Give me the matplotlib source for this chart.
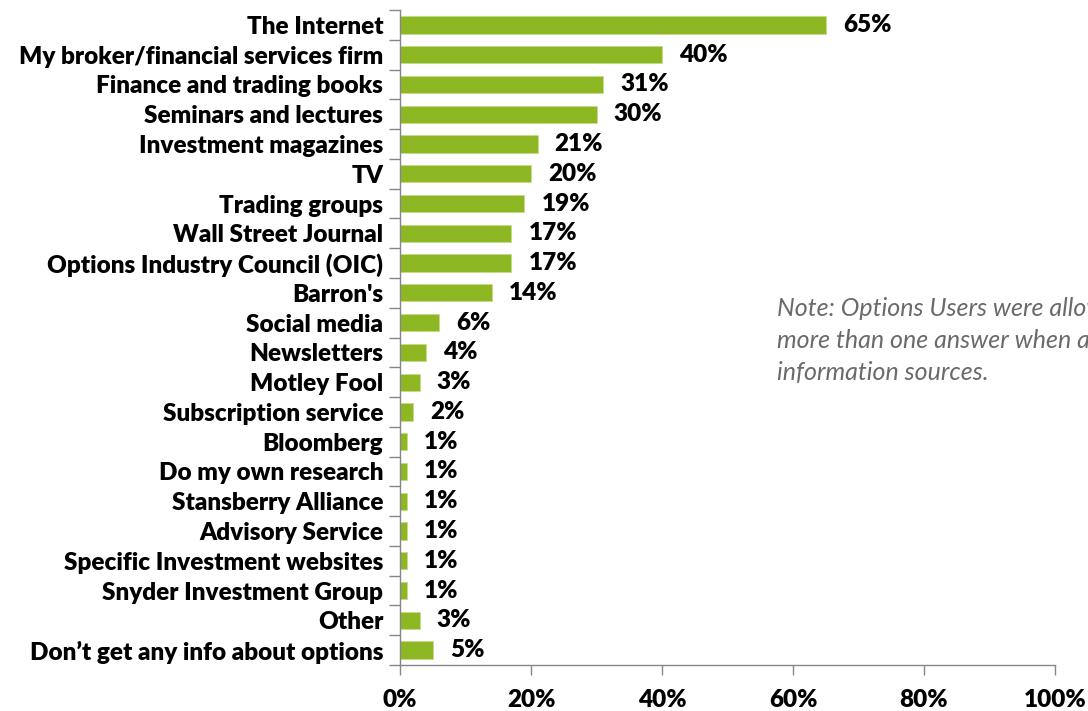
import matplotlib
matplotlib.use("Agg")
import matplotlib.pyplot as plt
from matplotlib.ticker import FixedLocator, PercentFormatter

categories = [
    "The Internet", "My broker/financial services firm", "Finance and trading books",
    "Seminars and lectures", "Investment magazines", "TV", "Trading groups",
    "Wall Street Journal", "Options Industry Council (OIC)", "Barron's", "Social media",
    "Newsletters", "Motley Fool", "Subscription service", "Bloomberg",
    "Do my own research", "Stansberry Alliance", "Advisory Service",
    "Specific Investment websites", "Snyder Investment Group", "Other",
    "Don\u2019t get any info about options",
]
values = [65, 40, 31, 30, 21, 20, 19, 17, 17, 14, 6, 4, 3, 2, 1, 1, 1, 1, 1, 1, 3, 5]
value_labels = ["65%", "40%", "31%", "30%", "21%", "20%", "19%", "17%", "17%", "14%", "6%",
                "4%", "3%", "2%", "1%", "1%", "1%", "1%", "1%", "1%", "3%", "5%"]
xticks = [0, 20, 40, 60, 80, 100]
note_lines = ["Note: Options Users were allowed to give",
              "more than one answer when asked about",
              "information sources."]

FONT = "Lato"
FS = 17.5
WEIGHT = "heavy"
GREEN = "#8DB823"
AXC = "#868686"

fig = plt.figure(figsize=(10.88, 7.11), dpi=100)
W, H = 1088, 711
ax = fig.add_axes([400 / W, 1 - 665 / H, 655 / W, 655 / H])

n = len(categories)
ys = list(range(n))
ax.barh(ys, values, height=0.58, color=GREEN, edgecolor="#C5DC8A", linewidth=0.6)
ax.set_xlim(0, 100)
ax.set_ylim(n - 0.5, -0.5)

for y, v, lab in zip(ys, values, value_labels):
    ax.text(v + 2.6, y, lab, va="center", ha="left", fontsize=FS, fontweight=WEIGHT,
            family=FONT, color="black")

ax.set_yticks(ys)
ax.set_yticklabels(categories, fontsize=FS, fontweight=WEIGHT, family=FONT)
ax.tick_params(axis="y", which="major", length=0, pad=12)
ax.yaxis.set_minor_locator(FixedLocator([i - 0.5 for i in range(n + 1)]))
ax.tick_params(axis="y", which="minor", length=8, color=AXC, width=1)

ax.set_xticks(xticks)
ax.xaxis.set_major_formatter(PercentFormatter(decimals=0))
ax.tick_params(axis="x", length=7, color=AXC, width=1, pad=10)
for t in ax.get_xticklabels():
    t.set_fontsize(FS)
    t.set_fontweight(WEIGHT)
    t.set_family(FONT)

for s in ["top", "right"]:
    ax.spines[s].set_visible(False)
for s in ["left", "bottom"]:
    ax.spines[s].set_color(AXC)
    ax.spines[s].set_linewidth(1)

for i, line in enumerate(note_lines):
    fig.text(777 / W, 1 - (308 + i * 32) / H, line, fontsize=18, style="italic",
             family=FONT, color="#6A6A6A", va="center", ha="left")

fig.savefig("out.png", dpi=100)
